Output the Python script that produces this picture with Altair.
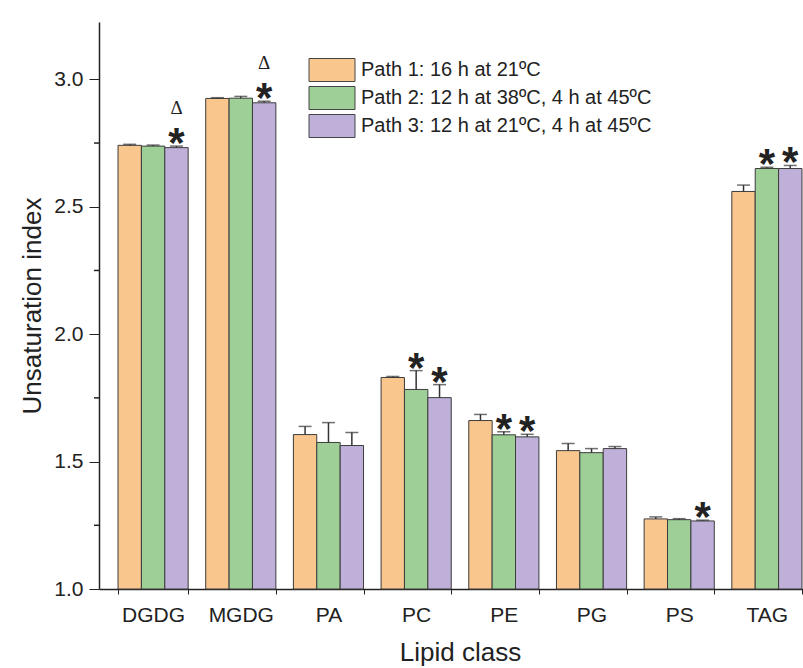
import altair as alt
import pandas as pd

lipids = ["DGDG", "MGDG", "PA", "PC", "PE", "PG", "PS", "TAG"]
paths = [
    "Path 1: 16 h at 21ºC",
    "Path 2: 12 h at 38ºC, 4 h at 45ºC",
    "Path 3: 12 h at 21ºC, 4 h at 45ºC",
]
colors = ["#F9C68E", "#9DCF97", "#BEB0D8"]

path1 = [2.741, 2.925, 1.606, 1.830, 1.661, 1.543, 1.275, 2.560]
path1_err = [0.004, 0.003, 0.032, 0.004, 0.024, 0.028, 0.008, 0.025]
path2 = [2.738, 2.926, 1.575, 1.783, 1.605, 1.535, 1.272, 2.650]
path2_err = [0.004, 0.007, 0.078, 0.074, 0.012, 0.016, 0.004, 0.005]
path3 = [2.732, 2.908, 1.563, 1.751, 1.597, 1.551, 1.267, 2.650]
path3_err = [0.006, 0.006, 0.051, 0.051, 0.010, 0.008, 0.003, 0.012]

star_lipids = ["DGDG", "MGDG", "PC", "PC", "PE", "PE", "PS", "TAG", "TAG"]
star_paths = [3, 3, 2, 3, 2, 3, 3, 2, 3]
delta_lipids = ["DGDG", "MGDG"]
delta_paths = [3, 3]

minor_ticks = [1.25, 1.75, 2.25, 2.75]
major_ticks = [1.0, 1.5, 2.0, 2.5, 3.0]

rows = []
for i, lip in enumerate(lipids):
    for p, vals, errs in zip(paths, [path1, path2, path3], [path1_err, path2_err, path3_err]):
        rows.append(dict(lipid=lip, path=p, value=vals[i], err=errs[i], top=vals[i] + errs[i]))
df = pd.DataFrame(rows)

def lookup_top(lip, pidx):
    r = df[(df.lipid == lip) & (df.path == paths[pidx - 1])].iloc[0]
    return r.top

stars = pd.DataFrame({
    "lipid": star_lipids,
    "path": [paths[p - 1] for p in star_paths],
    "top": [lookup_top(l, p) for l, p in zip(star_lipids, star_paths)],
})
deltas = pd.DataFrame({
    "lipid": delta_lipids,
    "path": [paths[p - 1] for p in delta_paths],
    "top": [lookup_top(l, p) for l, p in zip(delta_lipids, delta_paths)],
})
minor_df = pd.DataFrame({"v": minor_ticks})

FONT = "Liberation Sans"

x_enc = alt.X(
    "lipid:N", sort=lipids, title="Lipid class",
    scale=alt.Scale(paddingInner=0.2, paddingOuter=0.217, range=[0, 722]),
    axis=alt.Axis(labelAngle=0, tickBand="extent", tickSize=5, tickColor="#222",
                  domainColor="#222", domainWidth=1.5, labelFontSize=21, labelFont=FONT,
                  labelColor="#222", labelPadding=10, titleFontSize=26, titleFont=FONT,
                  titleFontWeight="normal", titleColor="#222", titlePadding=14, grid=False),
)
x_plain = alt.X("lipid:N", sort=lipids)
xo = alt.XOffset("path:N", sort=paths, scale=alt.Scale(paddingInner=0, paddingOuter=0))
y_scale = alt.Scale(domain=[1.0, 3.225], nice=False, zero=False)

bars = alt.Chart(df).mark_bar(stroke="#3c3c3c", strokeWidth=1).encode(
    x=x_enc,
    xOffset=xo,
    y=alt.Y("value:Q", scale=y_scale, title="Unsaturation index",
            axis=alt.Axis(values=major_ticks, format=".1f", tickSize=10, tickColor="#222",
                          domainColor="#222", domainWidth=1.5, labelFontSize=21, labelFont=FONT,
                          labelColor="#222", labelPadding=6, titleFontSize=26, titleFont=FONT,
                          titleFontWeight="normal", titleColor="#222", titlePadding=8, grid=False)),
    y2=alt.datum(1.0),
    color=alt.Color("path:N", sort=paths, scale=alt.Scale(domain=paths, range=colors),
                    legend=alt.Legend(title=None, orient="none", legendX=221, legendY=36,
                                      padding=0, symbolType="M-2,-1H2V1H-2Z", symbolSize=529,
                                      symbolStrokeColor="#444", symbolStrokeWidth=1,
                                      symbolOpacity=1, labelLimit=0,
                                      labelFontSize=20, labelFont=FONT, labelColor="#222",
                                      labelOffset=17, rowPadding=0)),
)

err_rule = alt.Chart(df).mark_rule(color="#333", strokeWidth=1.5).encode(
    x=x_plain, xOffset=xo, y=alt.Y("value:Q"), y2="top:Q")
err_cap = alt.Chart(df).mark_tick(color="#333", thickness=1.5, size=13).encode(
    x=x_plain, xOffset=xo, y=alt.Y("top:Q"))

star_text = alt.Chart(stars).mark_text(
    text="*", font=FONT, fontSize=42, fontWeight="bold", color="#222",
    baseline="alphabetic", dy=11).encode(x=x_plain, xOffset=xo, y=alt.Y("top:Q"))
delta_text = alt.Chart(deltas).mark_text(
    text="Δ", font="Liberation Serif", fontSize=19, color="#222",
    baseline="alphabetic", dy=-32).encode(x=x_plain, xOffset=xo, y=alt.Y("top:Q"))

minor = alt.Chart(minor_df).mark_rule(color="#222", strokeWidth=1.5).encode(
    x=alt.value(-5), x2=alt.value(0), y=alt.Y("v:Q"))

chart = alt.layer(bars, err_rule, err_cap, star_text, delta_text, minor).properties(
    width=704, height=567,
    autosize=alt.AutoSizeParams(type="none"),
    padding={"left": 99, "top": 22, "right": 0, "bottom": 79},
    background="white",
).configure_view(stroke=None)

chart.save("out.html", embed_options={"renderer": "svg", "actions": False})
